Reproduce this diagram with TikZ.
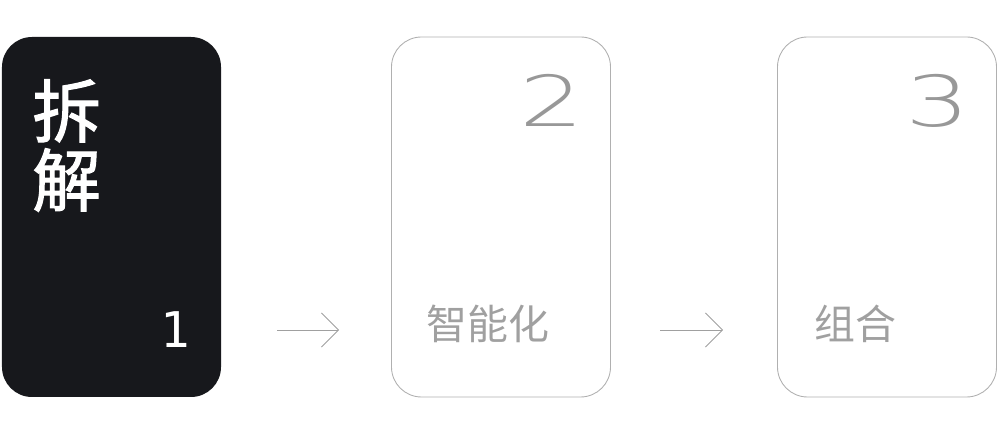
\documentclass[tikz,border=0pt]{standalone}
\usepackage{fontspec}
\usetikzlibrary{arrows.meta}
\newfontfamily\cjk{Noto Sans CJK SC}
\newfontfamily\cjkmedium{Noto Sans CJK SC}[FakeBold=1.6]
\newfontfamily\digitfont{DejaVu Sans ExtraLight}
\newfontfamily\stepmono{DejaVu Sans Mono}
\definecolor{cardDark}{HTML}{17181C}
\definecolor{cardLine}{HTML}{B0B0B0}
\definecolor{cardText}{HTML}{A0A0A0}

\begin{document}
\begin{tikzpicture}[>={Straight Barb[length=3.4mm,width=6.8mm]},
    card/.style={rounded corners=6mm, minimum width=4.38cm, minimum height=7.2cm, inner sep=0pt},
    title/.style={inner sep=0pt, font=\cjkmedium\fontsize{39}{39}\selectfont, text=white},
    label/.style={inner sep=0pt, font=\cjk\fontsize{23.3}{23.3}\selectfont, text=cardText},
    bignum/.style={inner sep=0pt, font=\digitfont\fontsize{40}{40}\selectfont, text=cardText!95!black},
    flow/.style={->, draw=cardText, line width=0.5pt}]

  \useasboundingbox (0,0) rectangle (20,-8.7);

  % the three cards
  \node[card, fill=cardDark] (c1) at (2.23,-4.34) {};
  \node[card, draw=cardLine, line width=0.5pt] (c2) at (10.02,-4.34) {};
  \node[card, draw=cardLine, line width=0.5pt] (c3) at (17.74,-4.34) {};

  % card texts
  \node[title, anchor=base west] (chai) at (0.64,-2.74) {拆};
  \node[title, anchor=base west] (jie)  at (0.64,-4.12) {解};
  \node[inner sep=0pt, anchor=base, font=\stepmono\fontsize{28}{28}\selectfont, text=white] (n1) at (3.5,-6.96) {1};

  \node[bignum, anchor=base] (n2) at (11.04,-2.54) {\scalebox{1.45}[1]{2}};
  \node[label, anchor=base west] (zhi) at (8.52,-6.8) {智能化};

  \node[bignum, anchor=base] (n3) at (18.76,-2.54) {\scalebox{1.45}[1]{3}};
  \node[label, anchor=base west] (zu) at (16.28,-6.8) {组合};

  % arrows between cards
  \coordinate (a1s) at (5.54,-6.6);
  \coordinate (a1e) at (6.78,-6.6);
  \coordinate (a2s) at (13.2,-6.6);
  \coordinate (a2e) at (14.46,-6.6);
  \draw[flow] (a1s) -- (a1e);
  \draw[flow] (a2s) -- (a2e);
\end{tikzpicture}
\end{document}
